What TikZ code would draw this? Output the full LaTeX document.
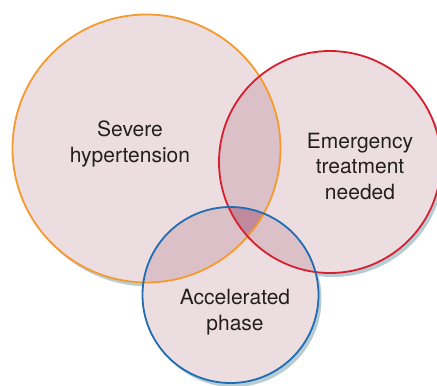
\documentclass[tikz,border=0pt]{standalone}
\usepackage{fontspec}
\setmainfont{TeX Gyre Heros}
\definecolor{orangeC}{HTML}{F59A2F}
\definecolor{redC}{HTML}{D71F2F}
\definecolor{blueC}{HTML}{1F6DB3}
\definecolor{shadowC}{HTML}{B8CCD4}
\definecolor{fillOne}{HTML}{ECDDE1}
\definecolor{fillTwo}{HTML}{DCC0C8}
\definecolor{fillThree}{HTML}{BF8A9D}
\definecolor{txt}{HTML}{231F20}
\begin{document}
\begin{tikzpicture}[x=1pt,y=-1pt,
  lbl/.style={font=\fontsize{21}{25.5}\selectfont, text=txt, align=center, inner sep=0pt},
  ring/.style={line width=1.8pt}]
\useasboundingbox (0,0) rectangle (437,386);
\coordinate (o) at (146.5,148.5);
\coordinate (r) at (330,162);
\coordinate (b) at (230.5,295);
% shadows
\fill[shadowC] ([shift={(3,4)}]o) circle (134pt);
\fill[shadowC] ([shift={(3,4)}]r) circle (111pt);
\fill[shadowC] ([shift={(3,4)}]b) circle (88pt);
% single fills
\fill[fillOne] (o) circle (134pt);
\fill[fillOne] (r) circle (111pt);
\fill[fillOne] (b) circle (88pt);
% pairwise overlaps
\begin{scope}\clip (o) circle (134pt); \fill[fillTwo] (r) circle (111pt); \fill[fillTwo] (b) circle (88pt);\end{scope}
\begin{scope}\clip (r) circle (111pt); \fill[fillTwo] (b) circle (88pt);\end{scope}
% triple overlap
\begin{scope}\clip (o) circle (134pt); \clip (r) circle (111pt); \fill[fillThree] (b) circle (88pt);\end{scope}
% outlines
\draw[ring, orangeC] (o) circle (134pt);
\draw[ring, redC] (r) circle (111pt);
\draw[ring, blueC] (b) circle (88pt);
% labels
\node[lbl] (sev) at (130,144) {Severe\\hypertension};
\node[lbl] (emg) at (360,166) {Emergency\\treatment\\needed};
\node[lbl] (acc) at (235,312) {Accelerated\\phase};
\end{tikzpicture}
\end{document}
